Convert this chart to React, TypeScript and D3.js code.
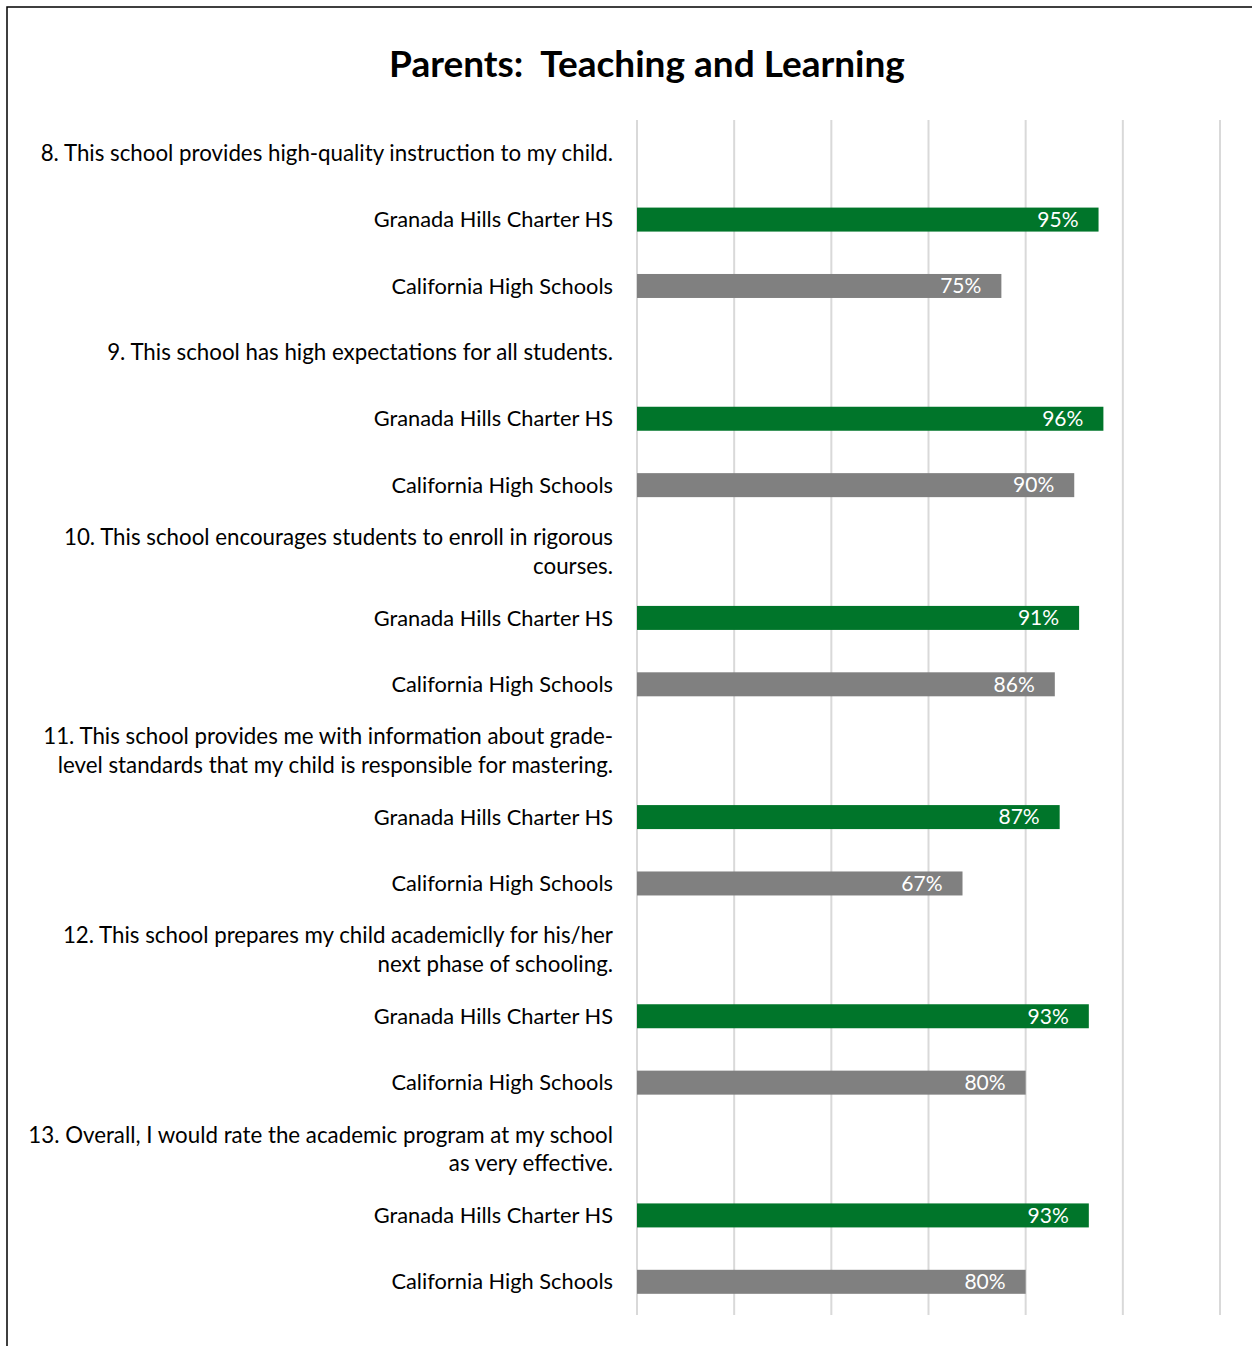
import React from "react";
import * as d3 from "d3";

const title = "Parents:\u00A0 Teaching and Learning";
const questions: string[][] = [
  ["8. This school provides high-quality instruction to my child."],
  ["9. This school has high expectations for all students."],
  ["10. This school encourages students to enroll in rigorous", "courses."],
  ["11. This school provides me with information about grade-", "level standards that my child is responsible for mastering."],
  ["12. This school prepares my child academiclly for his/her", "next phase of schooling."],
  ["13. Overall, I would rate the academic program at my school", "as very effective."],
];
const seriesNames = ["Granada Hills Charter HS", "California High Schools"];
const granada = [95, 96, 91, 87, 93, 93];
const california = [75, 90, 86, 67, 80, 80];
const gridTicks = [0, 20, 40, 60, 80, 100, 120];

const W = 1252, H = 1346;
const FONT = "Lato, 'Open Sans', sans-serif";

type Row = { kind: "q" | "s"; lines: string[]; value?: number; series?: number };

const rows: Row[] = [];
questions.forEach((q, i) => {
  rows.push({ kind: "q", lines: q });
  rows.push({ kind: "s", lines: [seriesNames[0]], value: granada[i], series: 0 });
  rows.push({ kind: "s", lines: [seriesNames[1]], value: california[i], series: 1 });
});

const colors = ["#00752A", "#808080"];

export default function App() {
  const x = d3.scaleLinear().domain([0, 120]).range([637, 1220]);
  const y = d3.scaleBand<number>().domain(d3.range(rows.length)).range([120, 1315]).padding(0);
  const barH = 24;
  const labelX = 613;
  return (
    <svg width={W} height={H} style={{ position: "absolute", left: 0, top: 0, background: "#fff" }} fontFamily={FONT}>
      <rect x={7} y={7} width={1300} height={1400} fill="#fff" stroke="#000" strokeWidth={1.5} />
      <text x={647} y={77} textAnchor="middle" fontSize={37} fontWeight="bold" fill="#000">{title}</text>
      {gridTicks.map((t) => (
        <line key={t} x1={x(t)} x2={x(t)} y1={120} y2={1315} stroke="#d9d9d9" strokeWidth={2} />
      ))}
      {rows.map((r, i) => {
        const cy = (y(i) as number) + y.bandwidth() / 2;
        const n = r.lines.length;
        return (
          <g key={i}>
            {r.lines.map((ln, j) => (
              <text key={j} x={labelX} y={cy + (j - (n - 1) / 2) * 28.5} dy="0.35em" textAnchor="end" fontSize={r.kind === "q" ? 22.3 : 21.8} fill="#000">{ln}</text>
            ))}
            {r.kind === "s" && (
              <g>
                <rect x={x(0)} y={cy - barH / 2} width={x(r.value!) - x(0)} height={barH} fill={colors[r.series!]} />
                <text x={x(r.value!) - 20} y={cy} dy="0.35em" textAnchor="end" fontSize={21} fill="#fff">{r.value}%</text>
              </g>
            )}
          </g>
        );
      })}
    </svg>
  );
}
